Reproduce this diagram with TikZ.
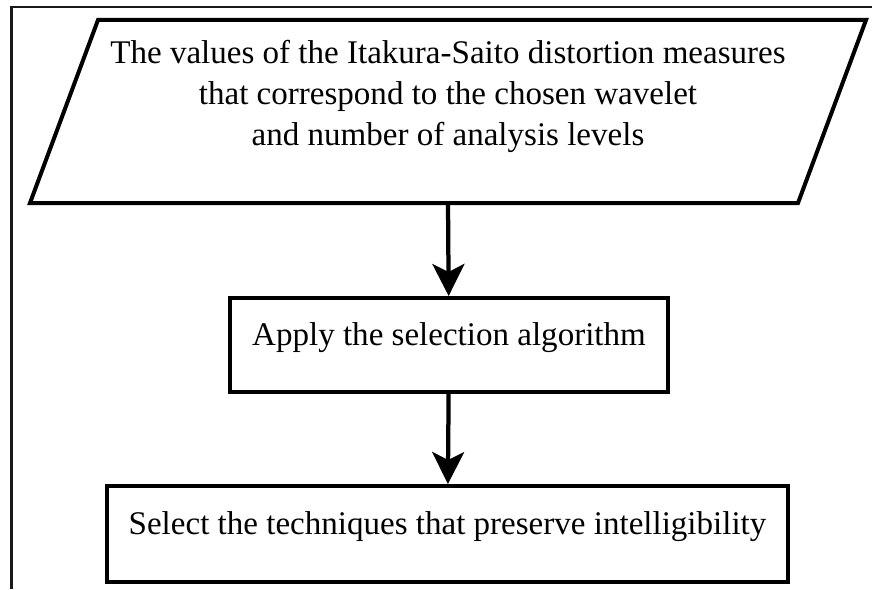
\documentclass[tikz,border=0pt]{standalone}
\usepackage{fontspec}
\setmainfont{Liberation Serif}
\usetikzlibrary{arrows.meta}

\begin{document}
\begin{tikzpicture}[auto,
    font=\fontsize{18.8}{23.3}\selectfont,
    thickline/.style={line width=0.08cm},
    box/.style={draw, thickline, rectangle, inner sep=0pt,
      text height=0.45cm, text depth=0.45cm},
    flow/.style={-{Stealth[length=0.64cm, width=0.64cm, inset=0.16cm]}, line width=0.085cm}]
    \useasboundingbox (0,0) rectangle (17.44,-11.78);
    % frame
    \draw [line width=0.045cm, black!90] (0.23,-11.78) -- (0.23,-0.14) -- (17.44,-0.14);
    % input parallelogram
    \coordinate (p1) at (0.60, -4.06);
    \coordinate (p2) at (1.96, -0.40);
    \coordinate (p3) at (17.32, -0.40);
    \coordinate (p4) at (15.96, -4.06);
    \draw [thickline, line join=miter] (p1) -- (p2) -- (p3) -- (p4) -- cycle;
    \node [align=center] (a) at (8.96, -1.93) {The values of the Itakura-Saito distortion measures\\
      that correspond to the chosen wavelet\\ and number of analysis levels};
    \coordinate (a-out) at (8.96, -4.06);
    \node [box, minimum width=8.76cm, minimum height=1.88cm] (b) at (8.98, -6.9) {Apply the selection algorithm};
    \node [box, minimum width=13.62cm, minimum height=1.92cm] (c) at (8.95, -10.68) {Select the techniques that preserve intelligibility};
    \draw [flow] (a-out) to (b);
    \draw [flow] (b) to (c);
  \end{tikzpicture}
\end{document}
